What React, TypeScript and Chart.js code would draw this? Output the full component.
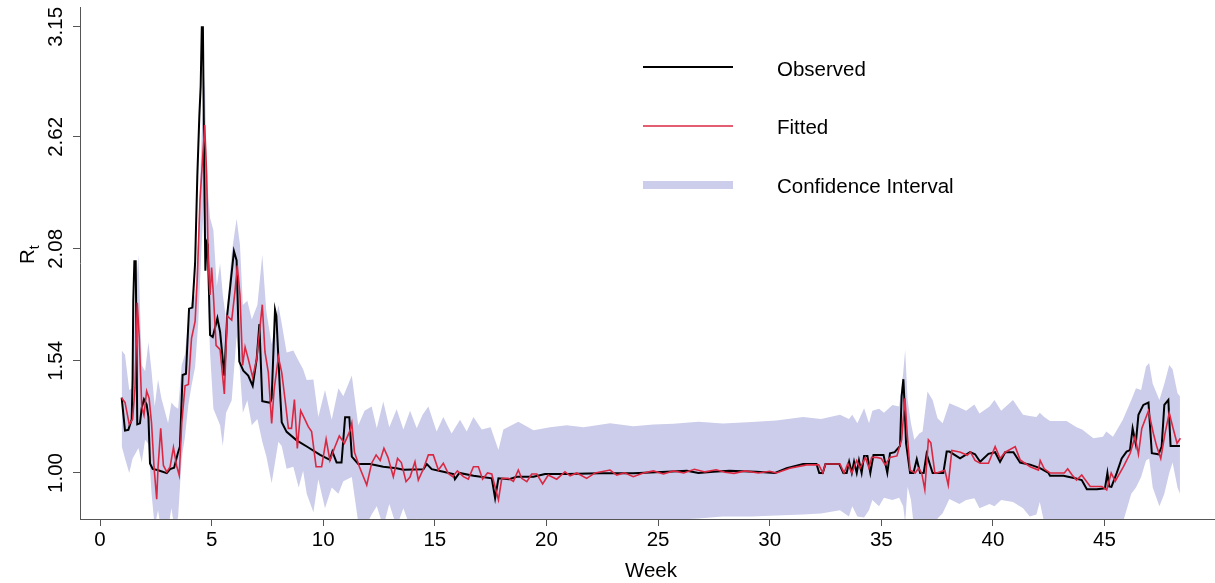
import React, { useEffect, useRef } from "react";
import { Chart, registerables } from "chart.js";

Chart.register(...registerables);

const W = 1215;
const H = 583;
const FONT = "'Liberation Sans', Arial, sans-serif";
const FS = 20.5;
const RED = "rgb(218,40,66)";
const BAND = "rgb(204,205,234)";
const AXIS = "#555555";

const xTickValues = [0, 5, 10, 15, 20, 25, 30, 35, 40, 45];
const yTickValues = [1.0, 1.54, 2.08, 2.62, 3.15];

const obsWeek = [
  0.97, 1.12, 1.27, 1.42, 1.46, 1.49, 1.54, 1.6, 1.67, 1.79, 1.87, 1.97, 2.09, 2.17, 2.24, 2.36, 2.61, 2.99, 3.14, 3.32,
  3.48, 3.58, 3.7, 3.85, 3.99, 4.14, 4.26, 4.36, 4.45, 4.51, 4.56, 4.61, 4.67, 4.72, 4.78, 4.83, 4.93, 5.05, 5.26, 5.38,
  5.57, 5.7, 6.0, 6.12, 6.24, 6.42, 6.64, 6.84, 7.02, 7.14, 7.27, 7.62, 7.69, 7.84, 7.9, 8.06, 8.14, 8.36, 8.81, 9.3,
  9.86, 10.3, 10.41, 10.6, 10.82, 10.98, 11.17, 11.28, 11.57, 12.1, 12.69, 13.29, 13.59, 14.49, 14.64, 14.86, 15.38, 15.83, 15.9, 16.1,
  16.73, 17.55, 17.7, 17.85, 18.33, 18.67, 19.42, 19.94, 20.91, 22.4, 23.9, 25.39, 26.29, 26.81, 27.48, 28.2, 29.4, 30.24, 30.76, 31.5,
  32.1, 32.22, 32.38, 32.5, 33.12, 33.3, 33.45, 33.56, 33.68, 33.78, 33.9, 34.0, 34.12, 34.23, 34.38, 34.51, 34.65, 35.1, 35.27, 35.39,
  35.6, 35.84, 35.91, 35.99, 36.03, 36.11, 36.29, 36.44, 36.59, 36.74, 36.9, 37.03, 37.3, 37.78, 37.93, 38.05, 38.53, 38.98, 39.2, 39.43,
  39.8, 40.1, 40.32, 40.55, 40.92, 41.22, 41.67, 42.11, 42.49, 42.56, 43.16, 43.68, 43.98, 44.21, 44.66, 45.02, 45.13, 45.21, 45.31, 45.55,
  45.77, 45.99, 46.14, 46.26, 46.4, 46.52, 46.74, 46.97, 47.12, 47.42, 47.56, 47.68, 47.86, 47.96, 48.38,
];
const obsValue = [
  1.363, 1.204, 1.208, 1.259, 1.452, 1.828, 2.021, 2.021, 1.234, 1.239, 1.314, 1.355, 1.33, 1.269, 1.046, 1.019, 1.013, 0.999, 1.019, 1.025,
  1.093, 1.127, 1.472, 1.478, 1.792, 1.797, 2.01, 2.432, 2.72, 2.864, 3.148, 3.148, 2.467, 1.975, 2.112, 2.1, 1.665, 1.655, 1.746, 1.68,
  1.469, 1.763, 2.069, 2.024, 1.537, 1.493, 1.469, 1.42, 1.55, 1.717, 1.346, 1.338, 1.36, 1.787, 1.757, 1.403, 1.244, 1.198, 1.157, 1.125,
  1.087, 1.063, 1.103, 1.05, 1.05, 1.269, 1.269, 1.079, 1.043, 1.043, 1.03, 1.023, 1.016, 1.018, 1.043, 1.018, 1.006, 0.995, 0.97, 1.0,
  0.986, 0.974, 0.878, 0.974, 0.97, 0.982, 0.982, 0.995, 0.995, 0.998, 0.998, 1.006, 1.011, 1.0, 1.006, 1.01, 1.006, 1.0, 1.023, 1.043,
  1.043, 1.0, 1.0, 1.043, 1.043, 1.0, 1.0, 1.054, 1.0, 1.054, 1.0, 1.06, 1.0, 1.082, 1.082, 1.0, 1.087, 1.087, 1.0, 1.095,
  1.1, 1.13, 1.368, 1.452, 1.36, 1.143, 1.0, 1.0, 1.066, 1.0, 1.0, 1.092, 1.0, 1.0, 1.103, 1.103, 1.07, 1.1, 1.09, 1.054,
  1.092, 1.1, 1.054, 1.1, 1.1, 1.05, 1.04, 1.023, 1.0, 0.986, 0.986, 0.974, 0.966, 0.921, 0.921, 0.926, 1.0, 0.935, 0.933, 1.0,
  1.07, 1.103, 1.11, 1.215, 1.14, 1.28, 1.328, 1.339, 1.095, 1.09, 1.127, 1.328, 1.352, 1.13, 1.13,
];

const fitWeek = [
  0.97, 1.12, 1.31, 1.46, 1.57, 1.67, 1.76, 1.87, 1.97, 2.09, 2.2, 2.31, 2.42, 2.54, 2.6, 2.72, 2.84, 2.99, 3.14, 3.29,
  3.43, 3.55, 3.66, 3.81, 3.96, 4.1, 4.26, 4.36, 4.48, 4.69, 4.78, 4.85, 4.93, 5.0, 5.08, 5.2, 5.38, 5.57, 5.7, 5.9,
  6.05, 6.15, 6.27, 6.39, 6.5, 6.64, 6.84, 7.02, 7.27, 7.39, 7.54, 7.69, 7.8, 7.99, 8.14, 8.29, 8.44, 8.58, 8.71, 8.84,
  8.99, 9.19, 9.33, 9.48, 9.68, 9.93, 10.13, 10.3, 10.5, 10.72, 10.95, 11.2, 11.28, 11.4, 11.62, 11.95, 12.17, 12.37, 12.55, 12.72,
  12.9, 13.14, 13.33, 13.5, 13.71, 13.89, 14.11, 14.26, 14.49, 14.71, 14.93, 15.16, 15.38, 15.6, 15.8, 16.01, 16.28, 16.5, 16.73, 16.95,
  17.14, 17.36, 17.55, 17.85, 18.0, 18.29, 18.52, 18.74, 18.89, 19.12, 19.34, 19.57, 19.83, 20.08, 20.46, 20.83, 21.06, 21.36, 21.8, 22.18,
  22.85, 23.15, 23.5, 23.89, 24.34, 24.79, 25.24, 25.69, 26.15, 26.63, 27.1, 27.6, 28.0, 28.4, 28.9, 29.5, 30.0, 30.3, 30.9, 31.66,
  32.2, 32.38, 32.5, 33.15, 33.33, 33.5, 33.68, 33.9, 34.05, 34.29, 34.45, 34.57, 34.8, 35.0, 35.17, 35.39, 35.7, 35.91, 36.06, 36.16,
  36.29, 36.52, 36.67, 36.81, 36.95, 37.11, 37.22, 37.4, 37.48, 37.85, 38.0, 38.16, 38.4, 38.55, 38.85, 39.0, 39.2, 39.43, 39.8, 40.1,
  40.32, 40.55, 41.0, 41.22, 41.67, 42.04, 42.12, 42.3, 42.56, 42.9, 43.2, 43.35, 43.55, 43.75, 43.98, 44.36, 44.88, 45.1, 45.3, 45.48,
  45.85, 46.15, 46.37, 46.52, 46.67, 46.97, 47.19, 47.34, 47.52, 47.71, 47.9, 48.06, 48.25, 48.4,
];
const fitValue = [
  1.361, 1.34, 1.234, 1.259, 1.411, 1.82, 1.649, 1.32, 1.279, 1.395, 1.361, 1.239, 1.029, 0.873, 1.026, 1.215, 1.036, 1.005, 1.029, 1.123,
  1.036, 0.988, 1.239, 1.42, 1.427, 1.649, 1.73, 1.943, 2.315, 2.677, 2.432, 2.008, 1.858, 1.99, 1.858, 1.615, 1.594, 1.381, 1.757, 1.737,
  1.879, 2.0, 1.858, 1.518, 1.607, 1.55, 1.462, 1.55, 1.811, 1.583, 1.485, 1.239, 1.401, 1.559, 1.485, 1.354, 1.215, 1.215, 1.354, 1.118,
  1.3, 1.256, 1.223, 1.199, 1.03, 1.03, 1.162, 1.06, 1.119, 1.178, 1.143, 1.204, 1.24, 1.1, 1.03, 0.942, 1.047, 1.087, 1.06, 1.119,
  1.075, 0.982, 1.07, 1.05, 0.958, 0.98, 1.054, 0.966, 1.02, 1.087, 1.087, 1.014, 1.047, 0.998, 0.982, 1.01, 0.982, 0.97, 1.03, 1.03,
  0.97, 1.0, 0.995, 0.87, 0.974, 0.974, 0.96, 1.014, 0.974, 0.958, 0.995, 0.995, 0.947, 0.99, 0.97, 1.006, 0.986, 1.0, 0.974, 1.0,
  1.014, 0.99, 1.001, 0.982, 1.0, 1.01, 0.995, 1.01, 1.0, 1.018, 1.005, 1.015, 1.003, 0.998, 1.01, 1.0, 1.008, 1.0, 1.023, 1.039,
  1.039, 1.0, 1.043, 1.043, 1.0, 1.045, 1.0, 1.06, 1.023, 1.075, 1.023, 1.075, 1.075, 1.07, 1.039, 1.075, 1.082, 1.16, 1.36, 1.19,
  1.013, 1.0, 1.023, 1.0, 0.92, 1.16, 1.145, 1.0, 1.0, 1.013, 0.942, 1.108, 1.103, 1.1, 1.085, 1.1, 1.06, 1.047, 1.047, 1.127,
  1.07, 1.1, 1.127, 1.063, 1.03, 1.014, 1.06, 1.02, 1.0, 1.0, 1.0, 1.02, 0.99, 0.966, 0.99, 0.935, 0.935, 0.918, 1.0, 0.96,
  1.03, 1.095, 1.175, 1.09, 1.215, 1.3, 1.19, 1.127, 1.07, 1.19, 1.29, 1.22, 1.143, 1.167,
];

const ciWeek = [
  0.97, 1.12, 1.31, 1.46, 1.57, 1.72, 1.87, 2.02, 2.17, 2.31, 2.45, 2.6, 2.75, 2.9, 3.05, 3.2, 3.35, 3.5, 3.66, 3.8,
  3.96, 4.1, 4.26, 4.4, 4.55, 4.7, 4.78, 4.93, 5.08, 5.23, 5.38, 5.5, 5.65, 5.9, 6.12, 6.27, 6.4, 6.6, 6.8, 7.05,
  7.27, 7.45, 7.69, 7.99, 8.14, 8.36, 8.66, 8.9, 9.1, 9.26, 9.56, 9.78, 10.08, 10.38, 10.68, 10.9, 11.28, 11.57, 11.85, 12.17,
  12.4, 12.69, 12.96, 13.29, 13.59, 13.89, 14.19, 14.45, 14.71, 15.08, 15.38, 15.75, 16.13, 16.43, 16.73, 17.1, 17.5, 17.85, 18.07, 18.74,
  19.42, 20.16, 20.91, 21.66, 22.85, 23.89, 24.79, 25.69, 26.81, 27.9, 29.2, 30.3, 31.5, 32.3, 33.15, 33.55, 33.7, 33.93, 34.23, 34.45,
  34.6, 34.9, 35.12, 35.5, 35.8, 35.98, 36.07, 36.18, 36.33, 36.48, 36.7, 36.85, 37.07, 37.3, 37.52, 37.75, 38.05, 38.5, 38.8, 39.17,
  39.4, 39.85, 40.07, 40.37, 40.9, 41.35, 41.65, 41.95, 42.1, 42.3, 42.56, 43.3, 43.75, 44.0, 44.5, 44.93, 45.08, 45.38, 45.82, 46.2,
  46.41, 46.64, 46.86, 47.0, 47.16, 47.46, 47.68, 47.9, 48.05, 48.27, 48.38,
];
const ciUpper = [
  1.59, 1.57, 1.4, 1.41, 1.83, 2.05, 1.52, 1.49, 1.63, 1.49, 1.32, 1.45, 1.36, 1.3, 1.24, 1.34, 1.32, 1.31, 1.52, 1.57,
  1.74, 1.82, 1.86, 2.14, 2.62, 2.91, 2.43, 2.23, 2.17, 1.9, 2.01, 1.86, 1.74, 2.06, 2.225, 2.1, 1.81, 1.83, 1.74, 1.81,
  2.05, 1.78, 1.62, 1.81, 1.72, 1.58, 1.59, 1.54, 1.5, 1.448, 1.45, 1.27, 1.4, 1.256, 1.408, 1.37, 1.47, 1.23, 1.3, 1.32,
  1.215, 1.344, 1.22, 1.307, 1.21, 1.3, 1.215, 1.28, 1.32, 1.2, 1.27, 1.19, 1.256, 1.2, 1.27, 1.21, 1.22, 1.11, 1.21, 1.247,
  1.206, 1.22, 1.23, 1.22, 1.24, 1.225, 1.234, 1.237, 1.247, 1.238, 1.245, 1.253, 1.27, 1.26, 1.28, 1.26, 1.28, 1.24, 1.312, 1.24,
  1.3, 1.31, 1.29, 1.328, 1.32, 1.48, 1.593, 1.352, 1.24, 1.16, 1.19, 1.2, 1.392, 1.352, 1.264, 1.24, 1.336, 1.315, 1.3, 1.33,
  1.287, 1.32, 1.352, 1.3, 1.352, 1.28, 1.275, 1.27, 1.29, 1.27, 1.25, 1.25, 1.22, 1.21, 1.167, 1.175, 1.2, 1.175, 1.256, 1.352,
  1.408, 1.4, 1.513, 1.53, 1.43, 1.352, 1.43, 1.52, 1.5, 1.384, 1.37,
];
const ciLower = [
  1.13, 1.07, 1.0, 1.07, 1.09, 1.12, 1.05, 1.16, 1.14, 0.9, 0.74, 0.82, 0.72, 0.77, 0.73, 0.83, 0.72, 0.79, 1.07, 1.17,
  1.33, 1.42, 1.51, 1.72, 2.09, 2.39, 2.04, 1.58, 1.31, 1.27, 1.23, 1.13, 1.29, 1.35, 1.66, 1.49, 1.29, 1.35, 1.23, 1.26,
  1.15, 1.08, 0.95, 1.15, 1.13, 1.02, 1.03, 0.93, 1.01, 0.9, 0.81, 0.97, 0.83, 0.93, 0.9, 0.96, 0.98, 0.76, 0.73, 0.8,
  0.84, 0.74, 0.85, 0.74, 0.83, 0.74, 0.78, 0.72, 0.72, 0.72, 0.72, 0.72, 0.72, 0.72, 0.72, 0.72, 0.72, 0.72, 0.72, 0.73,
  0.73, 0.74, 0.74, 0.75, 0.75, 0.76, 0.77, 0.775, 0.78, 0.79, 0.79, 0.795, 0.8, 0.805, 0.82, 0.79, 0.84, 0.79, 0.785, 0.82,
  0.87, 0.84, 0.88, 0.87, 0.88, 0.84, 0.76, 0.934, 0.87, 0.72, 0.72, 0.72, 0.72, 0.74, 0.78, 0.806, 0.875, 0.85, 0.87, 0.878,
  0.83, 0.85, 0.84, 0.87, 0.86, 0.83, 0.79, 0.8, 0.86, 0.76, 0.72, 0.72, 0.72, 0.72, 0.72, 0.72, 0.72, 0.72, 0.76, 0.9,
  0.93, 0.98, 1.06, 1.07, 0.93, 0.84, 0.9, 1.0, 1.05, 0.93, 0.9,
];

function pts(xs: number[], ys: number[]) {
  return xs.map((x, i) => ({ x, y: ys[i] }));
}

const textPlugin = {
  id: "customText",
  afterDraw(chart: any) {
    const ctx = chart.ctx as CanvasRenderingContext2D;
    const ys = chart.scales.y;
    ctx.save();
    ctx.fillStyle = "#000";
    ctx.font = `${FS}px ${FONT}`;
    // rotated y tick labels
    for (const v of yTickValues) {
      const py = ys.getPixelForValue(v);
      ctx.save();
      ctx.translate(62, py);
      ctx.rotate(-Math.PI / 2);
      ctx.textAlign = "center";
      ctx.textBaseline = "alphabetic";
      ctx.fillText(v.toFixed(2), 0, 0);
      ctx.restore();
    }
    // y title R_t
    ctx.save();
    ctx.translate(34, 255);
    ctx.rotate(-Math.PI / 2);
    ctx.textAlign = "left";
    ctx.textBaseline = "alphabetic";
    ctx.font = `${FS}px ${FONT}`;
    ctx.fillText("R", -9, 0);
    const rw = ctx.measureText("R").width;
    ctx.font = `14px ${FONT}`;
    ctx.fillText("t", -9 + rw, 5);
    ctx.restore();
    // x title
    ctx.textAlign = "center";
    ctx.textBaseline = "middle";
    ctx.font = `${FS}px ${FONT}`;
    ctx.fillText("Week", 651, 571);
    // legend
    ctx.strokeStyle = "#000";
    ctx.lineWidth = 2;
    ctx.beginPath();
    ctx.moveTo(643, 67);
    ctx.lineTo(733, 67);
    ctx.stroke();
    ctx.strokeStyle = RED;
    ctx.lineWidth = 1.5;
    ctx.beginPath();
    ctx.moveTo(643, 126);
    ctx.lineTo(733, 126);
    ctx.stroke();
    ctx.fillStyle = BAND;
    ctx.fillRect(643, 181, 90, 8);
    ctx.fillStyle = "#000";
    ctx.textAlign = "left";
    ctx.fillText("Observed", 777, 70);
    ctx.fillText("Fitted", 777, 128);
    ctx.fillText("Confidence Interval", 777, 187);
    ctx.restore();
  },
};

export default function App() {
  const ref = useRef<HTMLCanvasElement | null>(null);
  useEffect(() => {
    if (!ref.current) return;
    const chart = new Chart(ref.current, {
      type: "line",
      data: {
        datasets: [
          {
            label: "Fitted",
            data: pts(fitWeek, fitValue),
            borderColor: RED,
            borderWidth: 1.6,
            pointRadius: 0,
            tension: 0,
            fill: false,
          },
          {
            label: "Observed",
            data: pts(obsWeek, obsValue),
            borderColor: "#000",
            borderWidth: 2,
            pointRadius: 0,
            tension: 0,
            fill: false,
          },
          {
            label: "CI upper",
            data: pts(ciWeek, ciUpper),
            borderColor: "rgba(0,0,0,0)",
            borderWidth: 0,
            backgroundColor: BAND,
            pointRadius: 0,
            tension: 0,
            fill: 3,
          },
          {
            label: "CI lower",
            data: pts(ciWeek, ciLower),
            borderColor: "rgba(0,0,0,0)",
            borderWidth: 0,
            pointRadius: 0,
            tension: 0,
            fill: false,
          },
        ],
      } as any,
      options: {
        responsive: false,
        animation: false,
        devicePixelRatio: 1,
        layout: { padding: { top: 7, right: 0, left: 0, bottom: 0 } },
        plugins: { legend: { display: false }, tooltip: { enabled: false } },
        scales: {
          x: {
            type: "linear",
            min: -0.896,
            max: 49.95,
            afterBuildTicks: (s: any) => {
              s.ticks = xTickValues.map((v) => ({ value: v }));
            },
            afterFit: (s: any) => {
              s.height = 64;
            },
            grid: { drawOnChartArea: false, drawTicks: true, tickLength: 7, color: AXIS },
            border: { display: true, color: AXIS, width: 1 },
            ticks: {
              font: { family: FONT, size: FS },
              color: "#000",
              padding: 2,
              maxRotation: 0,
              autoSkip: false,
              callback: (v: any) => String(v),
            },
          },
          y: {
            type: "linear",
            min: 0.778,
            max: 3.246,
            afterBuildTicks: (s: any) => {
              s.ticks = yTickValues.map((v) => ({ value: v }));
            },
            afterFit: (s: any) => {
              s.width = 80;
            },
            grid: { drawOnChartArea: false, drawTicks: true, tickLength: 7, color: AXIS },
            border: { display: true, color: AXIS, width: 1 },
            ticks: { display: false },
          },
        },
      } as any,
      plugins: [textPlugin],
    });
    return () => chart.destroy();
  }, []);
  return (
    <div style={{ position: "absolute", left: 0, top: 0, width: W, height: H, background: "#fff" }}>
      <canvas ref={ref} width={W} height={H} style={{ display: "block", width: W, height: H }} />
    </div>
  );
}
